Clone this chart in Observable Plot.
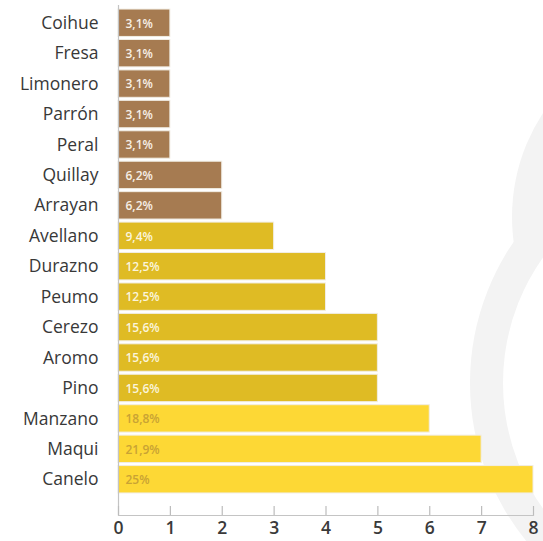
<!DOCTYPE html>
<html>
<head>
<meta charset="utf-8">
<script src="https://cdn.jsdelivr.net/npm/d3@7"></script>
<script src="https://cdn.jsdelivr.net/npm/@observablehq/plot@0.6"></script>
<style>
  html, body { margin: 0; padding: 0; background: #fff; }
  #wrap { position: relative; width: 543px; height: 541px; overflow: hidden; }
  #mark-bg { position: absolute; left: 0; top: 0; }
  #chart { position: absolute; left: 0; top: 0; }
</style>
</head>
<body>
<div id="wrap">
  <svg id="mark-bg" width="543" height="541">
    <circle cx="702" cy="217" r="190" fill="#f3f3f3"></circle>
    <circle cx="720" cy="383" r="233.5" fill="#ffffff" stroke="#f3f3f3" stroke-width="33"></circle>
  </svg>
  <div id="chart"></div>
</div>
<script>
// Tree species and how many times each was recorded
const species = ["Coihue", "Fresa", "Limonero", "Parrón", "Peral", "Quillay", "Arrayan",
  "Avellano", "Durazno", "Peumo", "Cerezo", "Aromo", "Pino", "Manzano", "Maqui", "Canelo"];
const counts = [1, 1, 1, 1, 1, 2, 2, 3, 4, 4, 5, 5, 5, 6, 7, 8];
const shares = ["3,1%", "3,1%", "3,1%", "3,1%", "3,1%", "6,2%", "6,2%", "9,4%",
  "12,5%", "12,5%", "15,6%", "15,6%", "15,6%", "18,8%", "21,9%", "25%"];
const groups = ["low", "low", "low", "low", "low", "low", "low",
  "mid", "mid", "mid", "mid", "mid", "mid", "high", "high", "high"];
const xTicks = [0, 1, 2, 3, 4, 5, 6, 7, 8];

const barFill = {low: "#a67b51", mid: "#dfbb24", high: "#fdd835"};
const labelFill = {low: "#f6efe6", mid: "#fbf5dc", high: "#c9a334"};

const rows = species.map((name, i) => ({
  name, count: counts[i], share: shares[i], group: groups[i]
}));

const font = "'Open Sans', 'Noto Sans', sans-serif";
const frameHeight = 541 - 6 - 26;

const chart = Plot.plot({
  width: 543,
  height: 541,
  marginLeft: 118,
  marginRight: 10,
  marginTop: 6,
  marginBottom: 26,
  style: {background: "transparent", fontFamily: font},
  x: {domain: [0, 8], ticks: xTicks, label: null},
  y: {domain: species, padding: 0.1, round: false, insetBottom: 19, label: null},
  marks: [
    Plot.barX(rows, {
      x: "count", y: "name",
      fill: d => barFill[d.group],
      stroke: "#f1ede4", strokeWidth: 1
    }),
    Plot.text(rows, {
      x: 0, y: "name", text: "share",
      textAnchor: "start", dx: 7, dy: 0.5,
      fill: d => labelFill[d.group],
      fontSize: 12, fontWeight: 600
    }),
    // axis lines: left edge and baseline
    Plot.ruleX([0], {stroke: "#c4c4c4", strokeWidth: 1.2, insetTop: -1}),
    Plot.frame({anchor: "bottom", stroke: "#c4c4c4", strokeWidth: 1.2}),
    // short upward ticks sitting on the baseline
    Plot.ruleX(xTicks, {stroke: "#bcbcbc", strokeWidth: 1.2, insetTop: frameHeight - 9}),
    Plot.axisX({
      ticks: xTicks, tickSize: 0, tickPadding: 6,
      fill: "#3a3a3a", fontSize: 17.5, fontWeight: 600,
      tickFormat: d => String(d)
    }),
    Plot.axisY({
      tickSize: 0, tickPadding: 20, fill: "#383838", fontSize: 17.5, fontWeight: 500
    })
  ]
});

document.getElementById("chart").appendChild(chart);
</script>
</body>
</html>
